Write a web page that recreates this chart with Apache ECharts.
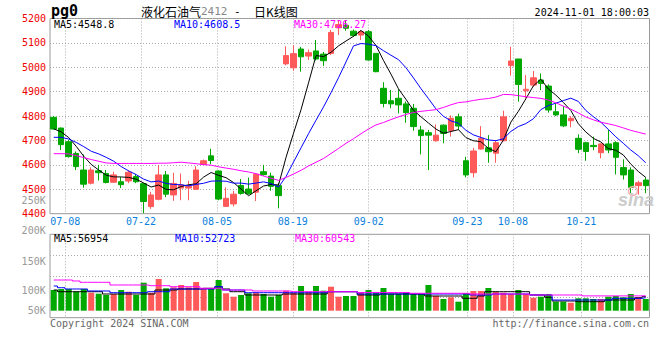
<!DOCTYPE html>
<html><head><meta charset="utf-8">
<script src="https://cdn.jsdelivr.net/npm/echarts@6/dist/echarts.min.js"></script>
<style>html,body{margin:0;padding:0;background:#fff}#c{width:660px;height:360px}</style>
</head><body><div id="c"></div>
<script>
const dates = ['07-04','07-05','07-08','07-09','07-10','07-11','07-12','07-15','07-16','07-17','07-18','07-19','07-22','07-23','07-24','07-25','07-26','07-29','07-30','07-31',
'08-01','08-02','08-05','08-06','08-07','08-08','08-09','08-12','08-13','08-14','08-15','08-16','08-19','08-20','08-21','08-22','08-23','08-26','08-27','08-28','08-29','08-30',
'09-02','09-03','09-04','09-05','09-06','09-09','09-10','09-11','09-12','09-13','09-18','09-19','09-20','09-23','09-24','09-25','09-26','09-27','09-30',
'10-08','10-09','10-10','10-11','10-14','10-15','10-16','10-17','10-18','10-21','10-22','10-23','10-24','10-25','10-28','10-29','10-30','10-31','11-01'];
const xLabelDates = ['07-08','07-22','08-05','08-19','09-02','09-23','10-08','10-21'];

const open = [4795,4751,4695,4647,4579,4525,4576,4565,4529,4531,4534,4552,4523,4429,4459,4559,4477,4505,4505,4500,
4602,4637,4575,4430,4440,4516,4501,4488,4572,4554,4515,5014,4998,5075,5046,5067,5054,5057,5162,5172,
5148,5132,5146,5057,4914,4863,4873,4850,4832,4743,4732,4699,4763,4741,4797,4617,4568,4665,4670,4648,
4699,5007,5034,4904,4927,4948,4923,4818,4805,4781,4709,4691,4680,4650,4686,4691,4589,4579,4515,4538];
const close = [4747,4683,4634,4593,4521,4579,4568,4528,4559,4519,4570,4531,4450,4477,4559,4480,4524,4518,4512,4579,
4617,4618,4460,4463,4480,4483,4482,4562,4560,4512,4474,5048,5056,5043,5060,5034,5027,5143,5175,5160,
5130,5146,5030,4982,4852,4850,4846,4814,4757,4720,4722,4722,4729,4791,4759,4559,4657,4709,4654,4691,
4797,5026,4930,4910,4957,4934,4825,4805,4760,4791,4664,4655,4675,4686,4661,4631,4559,4508,4527,4515];
const low = [4745,4661,4630,4579,4507,4520,4536,4524,4527,4505,4525,4525,4402,4420,4455,4468,4453,4455,4455,4497,
4600,4603,4455,4428,4430,4478,4478,4452,4556,4494,4422,5008,4986,4982,5030,5028,5006,5050,5132,5150,
5125,5112,5028,4980,4836,4832,4811,4773,4740,4643,4579,4695,4689,4716,4743,4549,4549,4663,4609,4609,
4697,4966,4859,4873,4920,4907,4814,4800,4755,4754,4648,4617,4660,4627,4648,4561,4540,4484,4478,4484];
const high = [4800,4753,4702,4655,4643,4590,4600,4579,4572,4550,4578,4563,4527,4490,4600,4575,4568,4565,4535,4595,
4622,4666,4578,4508,4494,4542,4548,4565,4600,4568,4527,5086,5091,5084,5073,5112,5063,5153,5194,5190,
5155,5153,5153,5057,4939,4907,4910,4860,4850,4760,4743,4766,4766,4803,4810,4633,4670,4759,4722,4702,
4822,5084,5034,4968,4985,4975,4930,4852,4841,4800,4725,4695,4716,4688,4743,4697,4623,4590,4535,4549];

const ma5 = [4748,4735,4712,4676,4635.6,4602,4579,4557.8,4551,4550.6,4548.8,4541.4,4525.8,4509.4,4517.4,4499.4,4498,4511.6,4518.6,4522.6,
4550,4568.8,4557.2,4547.4,4527.6,4500.8,4473.6,4494,4513.4,4519.8,4518,4631.2,4730,4826.6,4936.2,5048.2,5044,5061.4,5087.8,5107.8,
5127,5150.8,5128.2,5089.6,5028,4972,4912,4868.8,4823.8,4797.4,4771.8,4747,4730,4736.8,4744.6,4712,4699,4695,4667.6,4654,
4701.6,4775.4,4819.6,4870.8,4924,4951.4,4911.2,4886.2,4856.2,4823,4769,4735,4709,4694.2,4666.6,4660,4640.8,4603.4,4573.2,4548.8];
const ma10 = [4713,4713,4706,4692,4675,4656,4645,4631,4615,4593.1,4575.4,4560.2,4541.8,4530.2,4534,4524.1,4519.7,4518.7,4514,4520,
4524.7,4533.4,4534.4,4533,4525.1,4525.4,4521.2,4525.6,4530.4,4523.7,4509.4,4552.4,4612,4670,4728,4783.1,4837.6,4895.7,4957.2,5022,
5087.6,5097.4,5094.8,5088.7,5067.9,5049.5,5031.4,4998.5,4956.7,4912.7,4871.9,4829.5,4799.4,4780.3,4771,4741.9,4723,4712.5,4702.2,4699.3,
4706.8,4737.2,4757.3,4769.2,4789,4826.5,4843.3,4852.9,4863.5,4873.5,4860.2,4823.1,4797.6,4775.2,4745.6,4715.3,4688.7,4661,4637.7,4608.5];
const ma30 = [4646,4646,4645,4638,4630,4622,4615,4608,4606,4606,4606,4606,4606,4606,4607,4607,4609,4611,4608,4605,
4601,4599,4592,4587,4582,4576,4571,4564,4554,4545.6,4536.5,4548.7,4562.7,4577.7,4595.7,4610.9,4626.2,4646.7,4667.2,4688.6,
4707.2,4727.7,4747.1,4763.9,4773.7,4786,4796.7,4806.6,4814.8,4819.5,4823,4826.4,4835.4,4846.3,4855.6,4858.2,4864,4868.9,4872,4878,
4888.8,4888,4883.8,4879.4,4876,4872.6,4865.9,4854.6,4840.8,4828.5,4813,4796.6,4784.8,4774.9,4768.5,4761.2,4751.7,4741.5,4733.8,4726.27];

const volume = [83800,87900,87900,77000,87900,72900,68900,63600,67600,83800,
77000,63600,113400,72900,128400,90700,94800,104100,94800,116200,
90700,90700,124300,70500,56700,63600,70500,72900,67600,56700,
63600,81000,72900,100000,77000,100000,81000,97200,56700,59500,
59500,72900,83800,72900,91900,67600,67600,72900,67600,67600,
104100,59500,47400,54300,36500,70500,79800,79800,91900,75700,
72900,67600,83800,67600,52700,56700,67600,36500,36500,32400,
50200,50200,47400,47400,56700,59500,54300,67600,54300,47400];
const volMa5 = [83800,77000,77000,77000,77000,77000,77000,67600,67600,67600,
67600,67600,67600,67600,83800,83800,83800,87900,87900,87900,
90700,90700,97200,87900,77000,77000,63600,63600,63600,63600,
63600,67600,67600,67600,67600,67600,67600,77000,77000,77000,
77000,63600,63600,63600,67600,67600,67600,67600,67600,67600,
59500,59500,59500,59500,59500,50200,50200,59500,77000,77000,
77000,77000,77000,77000,63600,63600,54300,39300,39300,39300,
36500,36500,36500,36500,43300,43300,43300,43300,52000,56954];
const volMa10 = [100000,93100,87900,87900,87900,79800,79800,79800,72900,72900,
72900,72900,72900,77000,77000,77000,87900,87900,87900,87900,
87900,87900,97200,83800,83800,83800,72900,72900,72900,72900,
72900,72900,72900,72900,72900,72900,72900,77000,77000,77000,
77000,67600,67600,67600,67600,67600,67600,67600,67600,67600,
67600,67600,67600,67600,67600,67600,63600,63600,63600,67600,
67600,67600,67600,67600,63600,63600,63600,43300,43300,43300,
43300,43300,43300,43300,43300,50000,50000,50000,50000,52723];
const volMa30 = [124300,124300,124300,120300,115000,115000,115000,115000,104100,104100,
104100,104100,104100,101300,101300,101300,97200,97200,97200,97200,
90700,90700,90700,83800,83800,83800,83800,79800,79800,79800,
79800,79800,77000,77000,77000,77000,77000,77000,77000,77000,
77000,73700,73700,73700,73700,73700,73700,73700,70500,70500,
70500,70500,70500,70500,70500,70500,67600,67600,67600,67600,
67600,67600,67600,67600,63600,63600,63600,63600,63600,63600,
63600,60000,60000,60000,60000,60000,60000,60000,60000,60543];

const priceMaText = ['MA5:4548.8','MA10:4608.5','MA30:4726.27'];
const volMaText = ['MA5:56954','MA10:52723','MA30:60543'];
const volTickLabels = ['250K','200K','150K','100K','50K'];

const RED = '#ff5a5a', GREEN = '#00a800';
const MONO = '"DejaVu Sans Mono", monospace';
const labelIdx = xLabelDates.map(d => dates.indexOf(d));
const showIdx = (i) => labelIdx.indexOf(i) >= 0;
const dotted = {color:'#aaa', width:1, type:[1,2]};

const chart = echarts.init(document.getElementById('c'), null, {renderer:'svg'});
const maLine = (name, data, color, xi, yi, step) => ({
  name, type:'line', data, xAxisIndex:xi, yAxisIndex:yi, symbol:'none', step: step || false,
  lineStyle:{color, width:1}, z:5, silent:true
});
const hiddenCat = (gi, bg) => ({type:'category', gridIndex:gi, data:dates, boundaryGap:bg,
  axisLine:{show:false}, axisTick:{show:false}, axisLabel:{show:false}, splitLine:{show:false}});

const txt = (text, x, y, fill, align, font) => ({type:'text', x, y, z:100,
  style:{text, fill, font: font || ('10px ' + MONO), align: align || 'left', verticalAlign:'middle'}});

const volTickY = [200, 230.7, 261.7, 290.7, 310.7];

chart.setOption({
  animation:false,
  backgroundColor:'#fff',
  grid:[
    {left:50, right:10.5, top:18.5, height:195.2, show:true, borderColor:'#999', borderWidth:1, backgroundColor:'transparent'},
    {left:50, right:10.5, top:234.3, height:83.4, show:true, borderColor:'#999', borderWidth:1, backgroundColor:'transparent'}
  ],
  xAxis:[
    hiddenCat(0, true),
    {type:'category', gridIndex:0, data:dates, boundaryGap:false, position:'bottom',
      axisLine:{show:false}, axisTick:{show:false},
      axisLabel:{interval:(i)=>showIdx(i), color:'#0a7fdc', fontFamily:MONO, fontSize:10, margin:3},
      splitLine:{show:true, interval:(i)=>showIdx(i), lineStyle:dotted}},
    hiddenCat(1, true),
    Object.assign(hiddenCat(1, false), {splitLine:{show:true, interval:(i)=>showIdx(i), lineStyle:dotted}})
  ],
  yAxis:[
    {type:'value', gridIndex:0, min:4400, max:5200, interval:100, scale:true,
      axisLine:{show:false}, axisTick:{show:false},
      axisLabel:{color:'#ee0000', fontFamily:MONO, fontSize:10, margin:4, padding:[0,0,3,0], formatter:(v)=>String(v)},
      splitLine:{show:true, lineStyle:dotted}},
    {type:'value', gridIndex:1, min:-28350, max:309420,
      axisLine:{show:false}, axisTick:{show:false}, axisLabel:{show:false}, splitLine:{show:false}},
    {type:'value', gridIndex:1, min:0, max:4, interval:1,
      axisLine:{show:false}, axisTick:{show:false}, axisLabel:{show:false}, splitLine:{show:true, lineStyle:dotted}}
  ],
  series:[
    {type:'candlestick', xAxisIndex:0, yAxisIndex:0, barWidth:6,
      data: dates.map((d,i)=>[open[i], close[i], low[i], high[i]]),
      itemStyle:{color:RED, color0:GREEN, borderColor:RED, borderColor0:GREEN, borderWidth:1}, z:3, silent:true},
    maLine('MA5', ma5, '#000000', 0, 0),
    maLine('MA10', ma10, '#0000ff', 0, 0),
    maLine('MA30', ma30, '#ff00ff', 0, 0),
    {type:'bar', xAxisIndex:2, yAxisIndex:1, barWidth:6, silent:true,
      data: volume.map((v,i)=>({value:v, itemStyle:{color: close[i] >= open[i] ? RED : GREEN}}))},
    maLine('VMA5', volMa5, '#000000', 2, 1, 'middle'),
    maLine('VMA10', volMa10, '#0000ff', 2, 1, 'middle'),
    maLine('VMA30', volMa30, '#ff00ff', 2, 1, 'middle')
  ],
  graphic:[
    txt('pg0', 51, 11, '#000', 'left', 'bold 15px ' + MONO),
    {type:'text', x:141, y:11.5, z:100, style:{
      text:'{cn|液化石油气}{num|2412}{m| -  }{cn|日K线图}', verticalAlign:'middle', align:'left',
      rich:{cn:{font:'12px "Noto Sans CJK SC"', fill:'#000'}, num:{font:'11px ' + MONO, fill:'#888'}, m:{font:'11px ' + MONO, fill:'#000'}}}},
    txt('2024-11-01 18:00:03', 649, 12.5, '#000', 'right'),
    txt(priceMaText[0], 54, 24, '#000'),
    txt(priceMaText[1], 174, 24, '#0000ff'),
    txt(priceMaText[2], 294, 24, '#ff00ff'),
    txt(volMaText[0], 54, 238.5, '#000'),
    txt(volMaText[1], 175, 238.5, '#0000ff'),
    txt(volMaText[2], 295, 238.5, '#ff00ff'),
    ...volTickLabels.map((t,k)=>txt(t, 45.7, volTickY[k], '#999', 'right')),
    txt('Copyright 2024 SINA.COM', 50, 323.5, '#666'),
    txt('http://finance.sina.com.cn', 649, 323.5, '#666', 'right'),
    txt('sina', 618, 200, '#cccccc', 'left', 'italic bold 18px "Liberation Sans"'),
    {type:'circle', z:99, shape:{cx:633, cy:191, r:4.5}, style:{stroke:'#f4b0b0', fill:'none', lineWidth:1.5}}
  ]
});
</script></body></html>
